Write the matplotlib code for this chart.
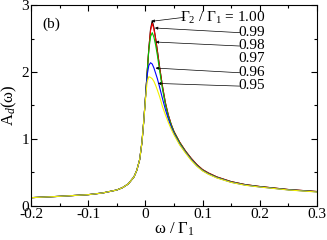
import matplotlib
matplotlib.use("Agg")
import matplotlib.pyplot as plt

plt.rcParams['font.family'] = ['Liberation Serif', 'DejaVu Serif']
plt.rcParams['mathtext.fontset'] = 'custom'
plt.rcParams['mathtext.rm'] = 'Liberation Serif'
plt.rcParams['mathtext.it'] = 'Liberation Serif:italic'

w = [-0.2, -0.15, -0.1, -0.075, -0.05, -0.04, -0.03, -0.02, -0.015, -0.01, -0.006, -0.003,
     0.0, 0.003, 0.006, 0.009, 0.012, 0.015, 0.018, 0.021, 0.025, 0.03, 0.035, 0.04, 0.045,
     0.05, 0.06, 0.07, 0.08, 0.09, 0.1, 0.11, 0.125, 0.15, 0.175, 0.2, 0.25, 0.3]

left = [0.12, 0.14, 0.165, 0.19, 0.235, 0.27, 0.325, 0.43, 0.53, 0.69, 0.95, 1.25]

a100 = left + [1.6, 1.98, 2.35, 2.64, 2.77, 2.66, 2.5, 2.32, 2.07, 1.78, 1.54, 1.36, 1.22,
               1.11, 0.95, 0.82, 0.71, 0.615, 0.54, 0.49, 0.43, 0.36, 0.315, 0.287, 0.242, 0.212]
a099 = left + [1.6, 1.98, 2.35, 2.62, 2.73, 2.64, 2.49, 2.31, 2.06, 1.78, 1.54, 1.36, 1.22,
               1.11, 0.95, 0.82, 0.71, 0.615, 0.54, 0.49, 0.43, 0.36, 0.315, 0.287, 0.242, 0.212]
a098 = left + [1.6, 1.98, 2.33, 2.53, 2.59, 2.52, 2.4, 2.25, 2.02, 1.74, 1.51, 1.34, 1.21,
               1.1, 0.94, 0.81, 0.70, 0.605, 0.532, 0.482, 0.424, 0.355, 0.311, 0.284, 0.239, 0.209]
a096 = left + [1.6, 1.95, 2.1, 2.14, 2.12, 2.06, 1.98, 1.9, 1.77, 1.6, 1.44, 1.3, 1.18,
               1.08, 0.92, 0.8, 0.69, 0.597, 0.525, 0.476, 0.419, 0.351, 0.308, 0.281, 0.237, 0.207]
a095 = left + [1.58, 1.85, 1.93, 1.92, 1.9, 1.86, 1.8, 1.73, 1.63, 1.48, 1.36, 1.25, 1.15,
               1.06, 0.91, 0.79, 0.68, 0.59, 0.52, 0.471, 0.415, 0.348, 0.305, 0.279, 0.235, 0.205]

series = [a100, a099, a098, a096, a095]
colors = ['black', 'red', '#00c000', 'blue', '#f0f000']

labels = ['Γ$_2$ / Γ$_1$ = 1.00', '0.99', '0.98', '0.97', '0.96', '0.95']
label_y = [2.81, 2.60, 2.40, 2.21, 2.00, 1.80]
arrow_tips = [(0.0108, 2.76), (0.0166, 2.66), (0.018, 2.45), None, (0.0178, 2.06), (0.022, 1.83)]
arrow_tails = [(0.068, 2.82), (0.165, 2.59), (0.165, 2.39), None, (0.165, 1.99), (0.165, 1.79)]

fig = plt.figure(figsize=(3.27, 2.40), dpi=100)
ax = fig.add_axes([0.095, 0.143, 0.874, 0.835])

for s, c in zip(series, colors):
    ax.plot(w, s, color=c, lw=0.8)

ax.set_xlim(-0.2, 0.3)
ax.set_ylim(0, 3)
ax.set_xticks([-0.2, -0.1, 0, 0.1, 0.2, 0.3])
ax.set_xticklabels(['-0.2', '-0.1', '0', '0.1', '0.2', '0.3'])
ax.set_yticks([0, 1, 2, 3])
ax.set_xticks([-0.15, -0.05, 0.05, 0.15, 0.25], minor=True)
ax.set_yticks([0.5, 1.5, 2.5], minor=True)
ax.tick_params(which='both', direction='in', top=True, right=True, labelsize=11, pad=1.5)
ax.tick_params(which='major', length=4, width=0.8)
ax.tick_params(which='minor', length=2, width=0.8)
for sp in ax.spines.values():
    sp.set_linewidth(0.8)

ax.set_xlabel('ω / Γ$_1$', fontsize=12, labelpad=0)
ax.set_ylabel('A$_d$(ω)', fontsize=12, labelpad=2)
ax.text(-0.181, 2.72, '(b)', fontsize=11, ha='left', va='center')

for lab, ly, tip, tail in zip(labels, label_y, arrow_tips, arrow_tails):
    ax.text(0.21, ly, lab, fontsize=11, ha='right', va='center')
    if tip is not None:
        ax.annotate('', xy=tip, xytext=tail,
                    arrowprops=dict(arrowstyle='-|>', lw=0.5, color='black',
                                    mutation_scale=4, shrinkA=0, shrinkB=0))

fig.savefig('out.png', dpi=100)
